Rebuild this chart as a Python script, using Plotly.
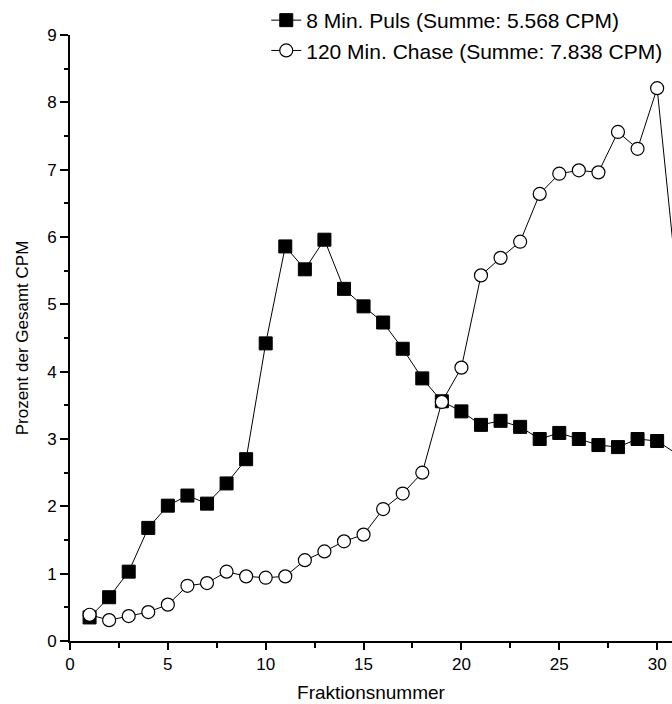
import plotly.graph_objects as go

fractions = list(range(1, 32))
pulse = [0.35, 0.65, 1.03, 1.68, 2.01, 2.16, 2.04, 2.34, 2.70, 4.42,
         5.86, 5.52, 5.96, 5.23, 4.97, 4.73, 4.34, 3.90, 3.56, 3.41,
         3.21, 3.27, 3.18, 3.00, 3.09, 3.00, 2.91, 2.88, 3.00, 2.97, 2.78]
chase = [0.39, 0.31, 0.37, 0.43, 0.54, 0.82, 0.86, 1.03, 0.96, 0.94,
         0.96, 1.20, 1.33, 1.48, 1.58, 1.96, 2.19, 2.50, 3.55, 4.06,
         5.43, 5.69, 5.93, 6.64, 6.94, 6.99, 6.96, 7.56, 7.31, 8.21, 5.35]
name_pulse = "8 Min. Puls (Summe: 5.568 CPM)"
name_chase = "120 Min. Chase (Summe: 7.838 CPM)"

FONT = "Liberation Sans, Arial, sans-serif"

fig = go.Figure()
fig.add_trace(go.Scatter(
    x=fractions, y=pulse, name=name_pulse, mode="lines+markers",
    line=dict(color="black", width=1),
    marker=dict(symbol="square", size=13, color="black",
                line=dict(color="black", width=1)),
    cliponaxis=False,
))
fig.add_trace(go.Scatter(
    x=fractions, y=chase, name=name_chase, mode="lines+markers",
    line=dict(color="black", width=1),
    marker=dict(symbol="circle", size=13, color="white",
                line=dict(color="black", width=1.2)),
    cliponaxis=False,
))

fig.update_layout(
    width=672, height=704,
    margin=dict(l=70, r=0, t=34, b=63),
    paper_bgcolor="white", plot_bgcolor="white",
    font=dict(family=FONT, color="black", size=17),
    showlegend=True,
    legend=dict(x=0.326, y=1.057, xanchor="left", yanchor="top",
                bgcolor="rgba(0,0,0,0)", font=dict(size=21, family=FONT),
                tracegroupgap=0, itemwidth=30),
    xaxis=dict(
        range=[0, 30.76], showgrid=False, zeroline=False,
        showline=True, linecolor="black", linewidth=1.6,
        ticks="outside", tickwidth=1.5, ticklen=7, tickcolor="black",
        tick0=0, dtick=5,
        minor=dict(dtick=2.5, ticks="outside", ticklen=5, tickwidth=1.5,
                   tickcolor="black", showgrid=False),
        tickfont=dict(size=17),
        title=dict(text="Fraktionsnummer", font=dict(size=19), standoff=12),
    ),
    yaxis=dict(
        range=[0, 9], showgrid=False, zeroline=False,
        showline=True, linecolor="black", linewidth=1.6,
        ticks="outside", tickwidth=1.5, ticklen=8, tickcolor="black",
        tick0=0, dtick=1,
        minor=dict(dtick=0.5, ticks="outside", ticklen=4, tickwidth=1.5,
                   tickcolor="black", showgrid=False),
        tickfont=dict(size=17),
        title=dict(text="Prozent der Gesamt CPM", font=dict(size=17), standoff=14),
    ),
)

fig.write_html("out.html")
